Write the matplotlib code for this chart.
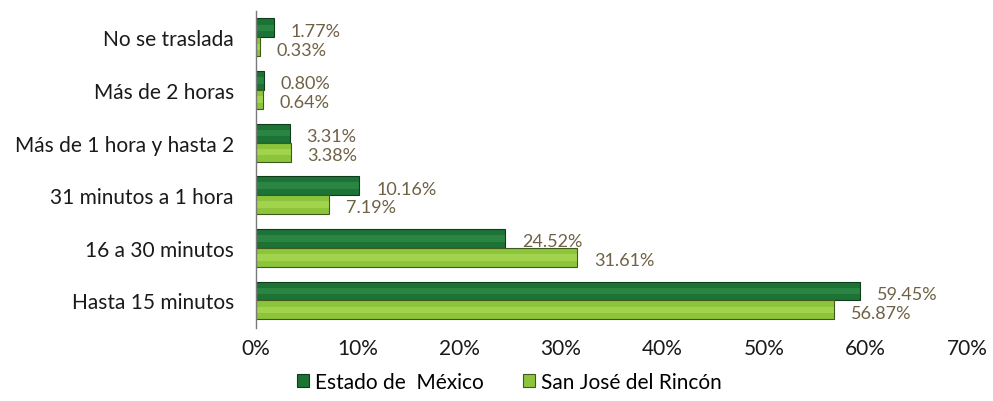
import matplotlib.pyplot as plt
import numpy as np

categories = [
    "No se traslada",
    "Más de 2 horas",
    "Más de 1 hora y hasta 2",
    "31 minutos a 1 hora",
    "16 a 30 minutos",
    "Hasta 15 minutos",
]
estado_mexico = [1.77, 0.80, 3.31, 10.16, 24.52, 59.45]
san_jose = [0.33, 0.64, 3.38, 7.19, 31.61, 56.87]
series_names = ["Estado de  México", "San José del Rincón"]
x_ticks = [0, 10, 20, 30, 40, 50, 60, 70]


def main() -> None:
    plt.rcParams["font.family"] = ["Lato", "DejaVu Sans"]

    fig = plt.figure(figsize=(9.93, 4.02), dpi=100)
    ax = fig.add_axes([0.258, 0.182, 0.716, 0.788])

    y = np.arange(len(categories))
    h = 0.36
    dark = "#1d7236"
    light = "#8cc43c"
    label_color = "#6f6145"

    b1 = ax.barh(y - h / 2, estado_mexico, height=h, color=dark,
                 edgecolor="#0f3d1c", linewidth=0.8, label=series_names[0])
    b2 = ax.barh(y + h / 2, san_jose, height=h, color=light,
                 edgecolor="#3f5a1a", linewidth=0.8, label=series_names[1])
    # soft highlight stripe to mimic the bevelled bars
    ax.barh(y - h / 2, estado_mexico, height=h * 0.35, color="#3a9a52",
            alpha=0.45, linewidth=0)
    ax.barh(y + h / 2, san_jose, height=h * 0.35, color="#b5e05a",
            alpha=0.55, linewidth=0)

    for bars in (b1, b2):
        for bar in bars:
            w = bar.get_width()
            ax.annotate(f"{w:.2f}%",
                        (w, bar.get_y() + bar.get_height() / 2),
                        xytext=(12, -2), textcoords="offset points",
                        ha="left", va="center", fontsize=13,
                        color=label_color)

    ax.set_yticks(y)
    ax.set_yticklabels(categories, fontsize=15, color="#1a1a1a")
    ax.set_ylim(5.52, -0.5)
    ax.set_xlim(0, 70)
    ax.set_xticks(x_ticks)
    ax.set_xticklabels([f"{t}%" for t in x_ticks], fontsize=15,
                       color="#1a1a1a")
    ax.tick_params(length=0)
    ax.tick_params(axis="y", pad=16)
    ax.tick_params(axis="x", pad=7)

    for side in ("top", "right", "bottom"):
        ax.spines[side].set_visible(False)
    ax.spines["left"].set_color("#7a7a7a")
    ax.spines["left"].set_linewidth(1.0)

    fig.legend(handles=[b1, b2], labels=series_names, loc="center",
               bbox_to_anchor=(0.513, 0.047), ncol=2, frameon=False,
               fontsize=15, handlelength=0.55, handleheight=0.55,
               handletextpad=0.3, columnspacing=1.9)

    fig.savefig("out.png", dpi=100)


if __name__ == "__main__":
    main()
